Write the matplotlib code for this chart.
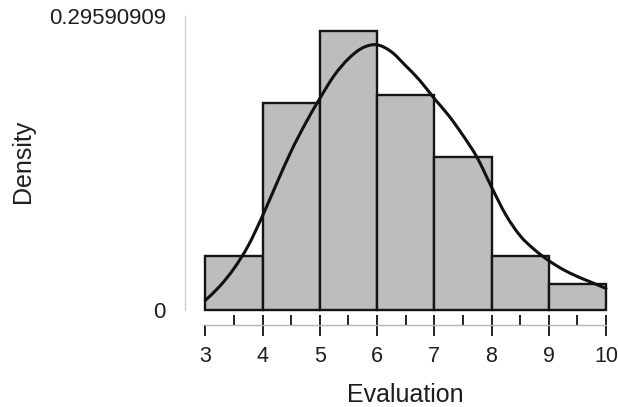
import numpy as np
import matplotlib
matplotlib.use("Agg")
import matplotlib.pyplot as plt
from matplotlib.path import Path
from matplotlib.patches import PathPatch

plt.rcParams['font.family'] = ['Liberation Sans', 'DejaVu Sans']

# Histogram of evaluations (density scale, unit-width bins)
bin_edges = [3, 4, 5, 6, 7, 8, 9, 10]
bin_density = [0.0546, 0.208, 0.281, 0.217, 0.154, 0.0543, 0.0268]

# Kernel density estimate at evenly spaced evaluation values
kde_x = [3.0, 3.25, 3.5, 3.75, 4.0, 4.25, 4.5, 4.75, 5.0, 5.25, 5.5, 5.75,
         6.0, 6.25, 6.5, 6.75, 7.0, 7.25, 7.5, 7.75, 8.0, 8.25, 8.5, 8.75,
         9.0, 9.25, 9.5, 9.75, 10.0]
kde_y = [0.010, 0.024, 0.042, 0.065, 0.095, 0.128, 0.160, 0.188, 0.213,
         0.236, 0.253, 0.264, 0.267, 0.260, 0.246, 0.231, 0.213, 0.196,
         0.176, 0.1535, 0.124, 0.096, 0.075, 0.061, 0.050, 0.041, 0.034,
         0.028, 0.022]

# Observed distinct values shown as a rug
rug_values = [3.5, 4, 4.5, 5, 5.5, 6, 6.5, 7, 7.5, 8, 8.5, 9, 9.5, 10]

y_ticks = [0, 0.29590909]
y_tick_labels = ["0", "0.29590909"]
x_ticks = [3, 4, 5, 6, 7, 8, 9, 10]

W, H = 618, 407
fig = plt.figure(figsize=(W / 100, H / 100), dpi=100)
px_left, px_right, px_top, px_bottom = 205.3, 606.0, 13.0, 310.3
ax = fig.add_axes([px_left / W, 1 - px_bottom / H,
                   (px_right - px_left) / W, (px_bottom - px_top) / H])

lefts = np.array(bin_edges[:-1])
widths = np.diff(bin_edges)
ax.bar(lefts, bin_density, width=widths, align='edge', color='#bdbdbd',
       edgecolor='#151515', linewidth=1.7, clip_on=False, zorder=2)


def catmull_rom_path(x, y):
    pts = np.column_stack([x, y])
    verts = [pts[0]]
    codes = [Path.MOVETO]
    n = len(pts)
    for i in range(n - 1):
        p0 = pts[i - 1] if i > 0 else pts[i]
        p1 = pts[i]
        p2 = pts[i + 1]
        p3 = pts[i + 2] if i + 2 < n else pts[i + 1]
        c1 = p1 + (p2 - p0) / 6.0
        c2 = p2 - (p3 - p1) / 6.0
        verts += [c1, c2, p2]
        codes += [Path.CURVE4] * 3
    return Path(verts, codes)


ax.add_patch(PathPatch(catmull_rom_path(kde_x, kde_y), facecolor='none',
                       edgecolor='#111111', linewidth=2.2, clip_on=False,
                       capstyle='round', zorder=3))

ax.set_xlim(3, 10)
ax.set_ylim(0, 0.299)

for s in ['top', 'right']:
    ax.spines[s].set_visible(False)
ax.spines['left'].set_position(('outward', 20 * 0.72))
ax.spines['left'].set_bounds(0, 0.29590909)
ax.spines['left'].set_color('#cfcfcf')
ax.spines['left'].set_linewidth(1.0)
ax.spines['bottom'].set_position(('outward', 15 * 0.72))
ax.spines['bottom'].set_bounds(3, 10)
ax.spines['bottom'].set_color('#b5b5b5')
ax.spines['bottom'].set_linewidth(1.0)

ax.set_yticks(y_ticks)
ax.set_yticklabels(y_tick_labels)
ax.tick_params(axis='y', length=0, pad=14, labelsize=16, labelcolor='#1e1e1e')
ax.set_xticks(x_ticks)
ax.set_xticklabels([str(t) for t in x_ticks])
ax.tick_params(axis='x', direction='out', length=8, width=1.4,
               color='#222222', pad=7, labelsize=15.5, labelcolor='#1e1e1e')

# Rug marks rising from the x-axis line
trans = ax.get_xaxis_transform()
rug_lo = -(325 - px_bottom) / (px_bottom - px_top)
rug_hi = -(315 - px_bottom) / (px_bottom - px_top)
ax.vlines(rug_values, rug_lo, rug_hi, transform=trans, colors='#222222',
          linewidth=1.4, clip_on=False)

ax.set_xlabel("Evaluation", fontsize=18, color='#1e1e1e')
ax.xaxis.set_label_coords(0.498, -0.285)
ax.xaxis.label.set_va('center')
ax.set_ylabel("Density", fontsize=18, color='#1e1e1e')
ax.yaxis.set_label_coords(-0.455, 0.5)
ax.yaxis.label.set_va('center')

fig.savefig("out.png", dpi=100, facecolor='white')
